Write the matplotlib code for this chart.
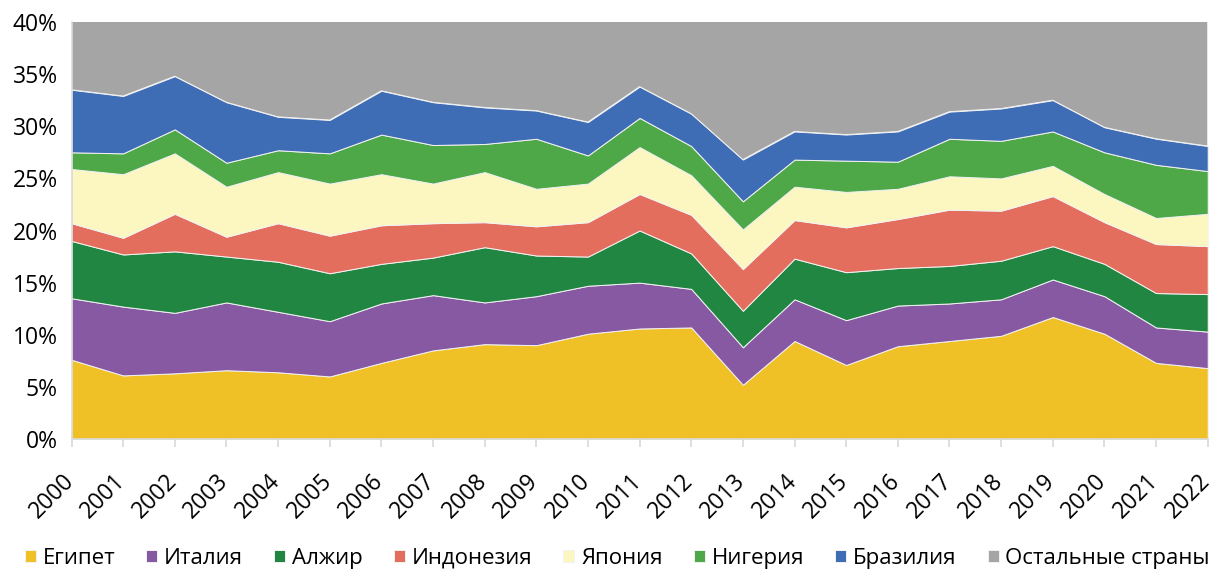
import numpy as np
import matplotlib
matplotlib.use('Agg')
import matplotlib.pyplot as plt
import matplotlib.transforms as mtransforms
from matplotlib.ticker import PercentFormatter

plt.rcParams['font.family'] = ['Open Sans', 'DejaVu Sans']

years = list(range(2000, 2023))

# доли, %
egypt = [7.6, 6.1, 6.3, 6.6, 6.4, 6.0, 7.3, 8.5, 9.1, 9.0, 10.1, 10.6, 10.7, 5.2, 9.4, 7.1, 8.9, 9.4, 9.9, 11.7, 10.1, 7.3, 6.8]
italy = [5.9, 6.6, 5.8, 6.5, 5.8, 5.3, 5.7, 5.3, 4.0, 4.7, 4.6, 4.4, 3.7, 3.6, 4.0, 4.3, 3.9, 3.6, 3.5, 3.6, 3.6, 3.4, 3.5]
algeria = [5.5, 5.0, 5.9, 4.4, 4.8, 4.6, 3.8, 3.6, 5.3, 3.9, 2.8, 5.0, 3.4, 3.5, 3.9, 4.6, 3.6, 3.6, 3.7, 3.2, 3.1, 3.3, 3.6]
indonesia = [1.7, 1.6, 3.6, 1.9, 3.7, 3.6, 3.7, 3.3, 2.4, 2.8, 3.3, 3.5, 3.7, 4.0, 3.7, 4.3, 4.7, 5.4, 4.8, 4.8, 4.0, 4.7, 4.6]
japan = [5.2, 6.1, 5.8, 4.8, 4.9, 5.0, 4.9, 3.8, 4.8, 3.6, 3.7, 4.5, 3.8, 3.8, 3.2, 3.4, 2.9, 3.2, 3.1, 2.9, 2.7, 2.5, 3.1]
nigeria = [1.6, 2.0, 2.3, 2.3, 2.1, 2.9, 3.8, 3.7, 2.7, 4.8, 2.7, 2.8, 2.8, 2.7, 2.6, 3.0, 2.6, 3.6, 3.6, 3.3, 4.0, 5.1, 4.1]
brazil = [6.0, 5.5, 5.1, 5.8, 3.2, 3.2, 4.2, 4.1, 3.5, 2.7, 3.2, 3.0, 3.1, 4.0, 2.7, 2.5, 2.9, 2.6, 3.1, 3.0, 2.4, 2.5, 2.4]
other = [66.5, 67.1, 65.2, 67.7, 69.1, 69.4, 66.6, 67.7, 68.2, 68.5, 69.6, 66.2, 68.8, 73.2, 70.5, 70.8, 70.5, 68.6, 68.3, 67.5, 70.1, 71.2, 71.9]

labels = ['Египет', 'Италия', 'Алжир', 'Индонезия', 'Япония', 'Нигерия', 'Бразилия', 'Остальные страны']
colors = ['#F0C127', '#8859A3', '#218642', '#E46E5E', '#FCF7C0', '#4FA847', '#3F6DB5', '#A5A5A5']

fig = plt.figure(figsize=(12.15, 5.69), dpi=100)
ax = fig.add_axes([71.5/1215, 130/569, 1136.2/1215, 417/569])

ax.stackplot(years, egypt, italy, algeria, indonesia, japan, nigeria, brazil, other,
             labels=labels, colors=colors, edgecolor='#f2f2f2', linewidth=0.7)

ax.set_xlim(2000, 2022)
ax.set_ylim(0, 40)
ax.set_yticks(range(0, 41, 5))
ax.yaxis.set_major_formatter(PercentFormatter(decimals=0))
ax.set_xticks(years)

for s in ['top', 'right']:
    ax.spines[s].set_visible(False)
for s in ['left', 'bottom']:
    ax.spines[s].set_color('#D9D9D9')
    ax.spines[s].set_linewidth(1.2)
ax.tick_params(axis='y', length=0, pad=10, labelsize=16.5)
ax.tick_params(axis='x', length=6, width=1.2, color='#D9D9D9', labelbottom=False)

# подписи годов: конец базовой линии чуть правее и ниже засечки
shift = mtransforms.ScaledTranslation(3/100, -43/100, fig.dpi_scale_trans)
for y in years:
    ax.text(y, 0, str(y), transform=ax.get_xaxis_transform() + shift, fontsize=16.5,
            rotation=45, ha='right', va='baseline', rotation_mode='anchor', clip_on=False)

fig.legend(loc='lower center', bbox_to_anchor=(0.508, -0.035), ncol=8, frameon=False,
           fontsize=16, handlelength=0.5, handleheight=0.5, handletextpad=0.3,
           columnspacing=1.4)

fig.savefig('out.png', dpi=100)
